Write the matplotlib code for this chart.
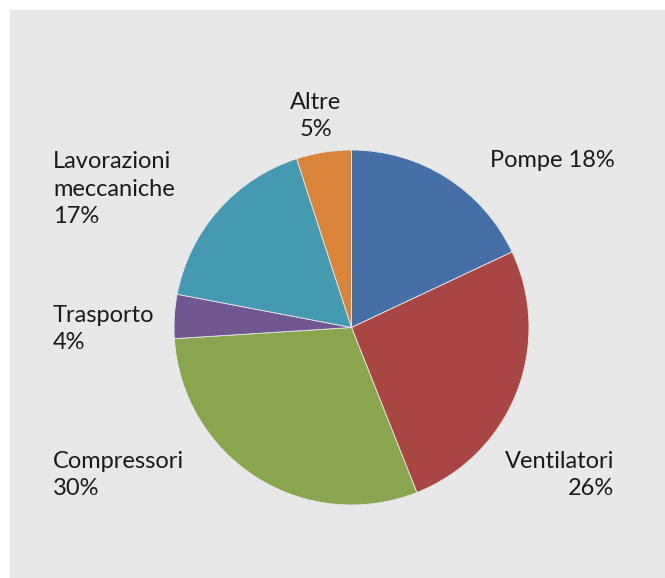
import matplotlib
matplotlib.use("Agg")
import matplotlib.pyplot as plt
from matplotlib.patches import Rectangle

categories = ["Pompe", "Ventilatori", "Compressori", "Trasporto", "Lavorazioni\nmeccaniche", "Altre"]
values = [18, 26, 30, 4, 17, 5]
colors = ["#4470A7", "#A94543", "#89A54E", "#70578F", "#4599B1", "#DA8439"]

W, H = 665, 578
fig = plt.figure(figsize=(W / 100, H / 100), dpi=100)
fig.patch.set_facecolor("white")
fig.add_artist(Rectangle((10 / W, 0), 1 - 10 / W, (H - 10) / H,
                         transform=fig.transFigure, facecolor="#E8E8E8",
                         edgecolor="none", zorder=0))

cx, cy, r = 351.5, 327.5, 177.5
ax = fig.add_axes([(cx - r) / W, (H - cy - r) / H, 2 * r / W, 2 * r / H])
ax.set_facecolor("none")
ax.pie(values, colors=colors, startangle=90, counterclock=False,
       wedgeprops=dict(edgecolor="#E8E8E8", linewidth=0.6))
ax.set_xlim(-1, 1)
ax.set_ylim(-1, 1)
ax.axis("off")

font = dict(family=["Lato", "DejaVu Sans"], fontsize=17, fontweight="normal",
            color="#1a1a1a")


def label(x, y, s, ha="left"):
    fig.text(x / W, 1 - y / H, s, ha=ha, va="center", linespacing=1.36, **font)


pct = [f"{v}%" for v in values]
label(490, 161, f"{categories[0]} {pct[0]}")
label(614, 475, f"Ventilatori\n{pct[1]}", ha="right")
label(53, 475, f"Compressori\n{pct[2]}")
label(53, 329, f"Trasporto\n{pct[3]}")
label(53, 189, f"{categories[4]}\n{pct[4]}")
label(316, 116, f"{categories[5]}\n{pct[5]}", ha="center")

fig.savefig("out.png", dpi=100, facecolor=fig.get_facecolor())
